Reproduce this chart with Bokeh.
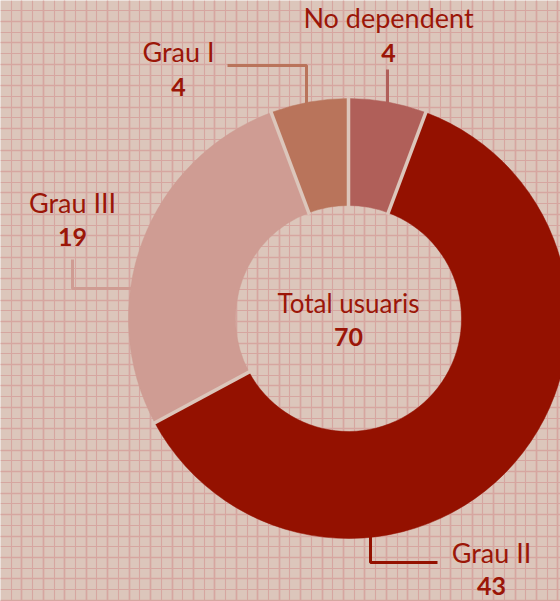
import math
from bokeh.plotting import figure
from bokeh.models import Range1d, SingleIntervalTicker, ColumnDataSource
from bokeh.core.properties import value
from bokeh.embed import file_html
from bokeh.resources import INLINE

# ---- data ----
categories = ["No dependent", "Grau II", "Grau III", "Grau I"]
counts = [4, 43, 19, 4]
center_label = "Total usuaris"

# ---- styles ----
slice_colors = ["#b05f59", "#941100", "#cf9c93", "#b9745b"]
text_color = "#9b1608"
bg_color = "#dcc6bb"
grid_color = "#d6a6a0"
FONT = "Lato"
TXT_SHIFT = -10       # renderer baseline correction (pixels)

W, H = 560, 601
TOP = 599.82          # aligns graph-paper grid phase
def Y(py):            # pixel-from-top -> data y
    return TOP - py

p = figure(width=W, height=H, output_backend="svg", toolbar_location=None,
           x_range=Range1d(0, W), y_range=Range1d(TOP - H, TOP),
           min_border=0, outline_line_color=None,
           background_fill_color=bg_color, border_fill_color=bg_color)
p.styles = {"position": "absolute", "left": "0px", "top": "0px"}
p.axis.visible = False
for g in (p.xgrid, p.ygrid):
    g.ticker = SingleIntervalTicker(interval=21.44, num_minor_ticks=2)
    g.grid_line_color = grid_color
    g.grid_line_width = 1.6
    g.minor_grid_line_color = grid_color
    g.minor_grid_line_width = 1.1

# ---- donut ----
cx, cy = 348, Y(318)
r_in, r_out = 113, 220
total = sum(counts)
starts, ends = [], []
acc = 0
for c in counts:
    starts.append(math.pi / 2 - 2 * math.pi * acc / total)
    acc += c
    ends.append(math.pi / 2 - 2 * math.pi * acc / total)
src = ColumnDataSource(dict(cat=categories, n=counts, start=starts, end=ends,
                            color=slice_colors))
p.annular_wedge(x=cx, y=cy, inner_radius=r_in, outer_radius=r_out,
                start_angle="start", end_angle="end", direction="clock",
                fill_color="color", line_color="color", line_width=0.5,
                source=src)
# separators between slices (constant-width gaps)
sep = dict(x0=[cx + (r_in - 2) * math.cos(a) for a in starts],
           y0=[cy + (r_in - 2) * math.sin(a) for a in starts],
           x1=[cx + (r_out + 2) * math.cos(a) for a in starts],
           y1=[cy + (r_out + 2) * math.sin(a) for a in starts])
p.segment(x0="x0", y0="y0", x1="x1", y1="y1", source=ColumnDataSource(sep),
          line_color=bg_color, line_width=3.5)

# ---- leader lines (layout, pixel coords from top) ----
def edge_y(px, upper=True):
    d = math.sqrt(r_out ** 2 - (px - cx) ** 2)
    return 318 - d if upper else 318 + d

def edge_x_left(py):
    return cx - math.sqrt(r_out ** 2 - (py - 318) ** 2)

leaders = {
    "No dependent": ([387, 387], [edge_y(387) + 2, 69]),
    "Grau I": ([306, 306, 227], [edge_y(306) + 2, 65, 65]),
    "Grau III": ([edge_x_left(288) + 2, 72, 72], [288, 288, 259]),
    "Grau II": ([370, 370, 437], [edge_y(370, False) - 2, 562, 562]),
}
label_pos = {   # (center x, label baseline, number baseline) in pixels
    "No dependent": (388, 27, 62),
    "Grau I": (178, 61, 96),
    "Grau III": (72, 212, 246),
    "Grau II": (491, 562, 595),
}
for cat, n, col in zip(categories, counts, slice_colors):
    xs, ys = leaders[cat]
    p.line(xs, [Y(v) for v in ys], line_color=col, line_width=3)
    lx, lb, nb = label_pos[cat]
    p.text(x=[lx], y=[Y(lb + TXT_SHIFT)], text=[cat], text_font=value(FONT),
           text_font_size="27px", text_color=text_color,
           text_align="center", text_baseline="alphabetic")
    p.text(x=[lx], y=[Y(nb + TXT_SHIFT)], text=[str(n)], text_font=value(FONT),
           text_font_size="25px", text_font_style="bold", text_color=text_color,
           text_align="center", text_baseline="alphabetic")

p.text(x=[cx], y=[Y(312 + TXT_SHIFT)], text=[center_label], text_font=value(FONT),
       text_font_size="26px", text_color=text_color,
       text_align="center", text_baseline="alphabetic")
p.text(x=[cx], y=[Y(346 + TXT_SHIFT)], text=[str(total)], text_font=value(FONT),
       text_font_size="25px", text_font_style="bold", text_color=text_color,
       text_align="center", text_baseline="alphabetic")

open("out.html", "w").write(file_html(p, INLINE))
